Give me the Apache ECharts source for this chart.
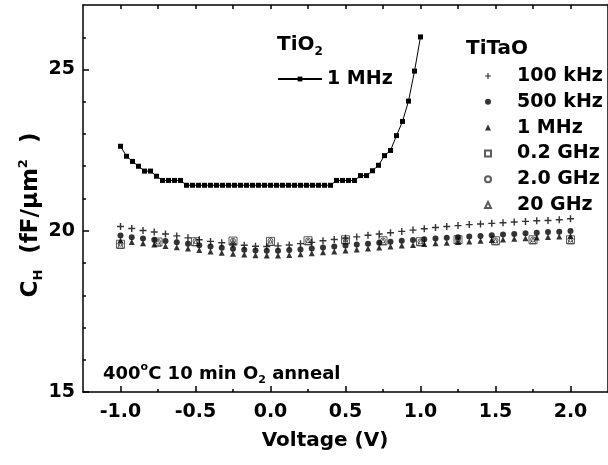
<!DOCTYPE html>
<html><head><meta charset="utf-8">
<script src="https://cdn.jsdelivr.net/npm/echarts@6/dist/echarts.min.js"></script>
<style>html,body{margin:0;padding:0;background:#fff}#c{width:608px;height:465px}</style>
</head><body><div id="c"></div>
<script>
// TiO2, 1 MHz
const tio2Voltage = [-1.00,-0.96,-0.92,-0.88,-0.84,-0.80,-0.76,-0.72,-0.68,-0.64,-0.60,-0.56,-0.52,-0.48,-0.44,-0.40,-0.36,-0.32,-0.28,-0.24,-0.20,-0.16,-0.12,-0.08,-0.04,0.00,0.04,0.08,0.12,0.16,0.20,0.24,0.28,0.32,0.36,0.40,0.44,0.48,0.52,0.56,0.60,0.64,0.68,0.72,0.76,0.80,0.84,0.88,0.92,0.96,1.00];
const tio2C = [22.62,22.31,22.15,22.00,21.85,21.85,21.69,21.56,21.56,21.56,21.56,21.41,21.41,21.41,21.41,21.41,21.41,21.41,21.41,21.41,21.41,21.41,21.41,21.41,21.41,21.41,21.41,21.41,21.41,21.41,21.41,21.41,21.41,21.41,21.41,21.41,21.56,21.56,21.56,21.56,21.71,21.71,21.86,22.03,22.33,22.49,22.95,23.39,24.02,24.95,26.01];

// TiTaO, low frequency
const titaoVoltage = [-1.000,-0.925,-0.850,-0.775,-0.700,-0.625,-0.550,-0.475,-0.400,-0.325,-0.250,-0.175,-0.100,-0.025,0.050,0.125,0.200,0.275,0.350,0.425,0.500,0.575,0.650,0.725,0.800,0.875,0.950,1.025,1.100,1.175,1.250,1.325,1.400,1.475,1.550,1.625,1.700,1.775,1.850,1.925,2.000];
const c100kHz = [20.13,20.07,20.01,19.96,19.90,19.84,19.78,19.72,19.67,19.63,19.59,19.55,19.52,19.51,19.53,19.56,19.60,19.64,19.69,19.73,19.77,19.81,19.86,19.90,19.94,19.98,20.02,20.06,20.10,20.13,20.16,20.19,20.21,20.23,20.25,20.27,20.29,20.31,20.32,20.34,20.37];
const c500kHz = [19.85,19.80,19.76,19.72,19.68,19.64,19.60,19.55,19.51,19.47,19.44,19.41,19.39,19.38,19.38,19.40,19.42,19.45,19.48,19.51,19.54,19.57,19.60,19.63,19.66,19.69,19.71,19.74,19.76,19.78,19.80,19.82,19.84,19.86,19.88,19.90,19.92,19.94,19.96,19.97,19.99];
const c1MHz = [19.70,19.65,19.61,19.57,19.53,19.49,19.45,19.40,19.36,19.32,19.29,19.26,19.24,19.23,19.23,19.25,19.27,19.30,19.33,19.36,19.39,19.42,19.45,19.48,19.51,19.54,19.56,19.59,19.61,19.63,19.65,19.67,19.69,19.71,19.73,19.75,19.77,19.79,19.81,19.82,19.84];

// TiTaO, RF
const rfVoltage = [-1.00,-0.75,-0.50,-0.25,0.00,0.25,0.50,0.75,1.00,1.25,1.50,1.75,2.00];
const c02GHz = [19.58,19.65,19.66,19.68,19.67,19.69,19.72,19.69,19.66,19.72,19.69,19.72,19.72];
const c20GHzA = [19.60,19.66,19.68,19.69,19.69,19.70,19.73,19.70,19.67,19.73,19.70,19.73,19.73];
const c20GHz = [19.55,19.62,19.63,19.65,19.64,19.66,19.69,19.66,19.63,19.69,19.66,19.69,19.69];

// Axis ticks
const xMajor = [-1.0,-0.5,0.0,0.5,1.0,1.5,2.0];
const xMinor = [-0.75,-0.25,0.25,0.75,1.25,1.75];
const xTop = [-1.0,-0.75,-0.5,-0.25,0.0,0.25,0.5,0.75,1.0,1.25,1.5,1.75,2.0];
const yMajor = [15,20,25];
const yMinor = [16,17,18,19,21,22,23,24,26];

const zip = (a,b)=>a.map((v,i)=>[v,b[i]]);
const FONT = 'DejaVu Sans, Verdana, sans-serif';
const plusPath = 'path://M4,0h2v4h4v2h-4v4h-2v-4h-4v-2h4z';
const ax = {color:'#000', width:1.5};
const txt = (size)=>({fontFamily:FONT, fontWeight:'bold', fontSize:size, fill:'#000', color:'#000'});

const chart = echarts.init(document.getElementById('c'), null, {renderer:'canvas'});
const baseX = {type:'value', min:-1.25, max:2.25, splitLine:{show:false}};
const baseY = {type:'value', min:15, max:27, splitLine:{show:false}};
chart.setOption({
  backgroundColor:'#fff',
  animation:false,
  grid:{left:83, top:5, width:527, height:387, containLabel:false},
  xAxis:[
    Object.assign({}, baseX, {position:'bottom',
      axisLine:{show:true, onZero:false, lineStyle:ax},
      axisTick:{show:true, inside:true, length:6, lineStyle:ax, customValues:xMajor},
      axisLabel:Object.assign({show:true, customValues:xMajor, formatter:v=>Number(v).toFixed(1), margin:11}, txt(19))}),
    Object.assign({}, baseX, {position:'bottom',
      axisLine:{show:false, onZero:false},
      axisTick:{show:true, inside:true, length:3, lineStyle:ax, customValues:xMinor},
      axisLabel:{show:false}}),
    Object.assign({}, baseX, {position:'top',
      axisLine:{show:true, onZero:false, lineStyle:ax},
      axisTick:{show:true, inside:true, length:4, lineStyle:ax, customValues:xTop},
      axisLabel:{show:false}})
  ],
  yAxis:[
    Object.assign({}, baseY, {position:'left',
      axisLine:{show:true, onZero:false, lineStyle:ax},
      axisTick:{show:true, inside:true, length:6, lineStyle:ax, customValues:yMajor},
      axisLabel:Object.assign({show:true, customValues:yMajor, margin:8}, txt(19))}),
    Object.assign({}, baseY, {position:'left',
      axisLine:{show:false, onZero:false},
      axisTick:{show:true, inside:true, length:3, lineStyle:ax, customValues:yMinor},
      axisLabel:{show:false}}),
    Object.assign({}, baseY, {position:'right',
      axisLine:{show:true, onZero:false, lineStyle:ax},
      axisTick:{show:false}, axisLabel:{show:false}})
  ],
  legend:[
    {left:272, top:63, itemWidth:44, itemHeight:6, itemGap:0, data:['TiO2 1 MHz'],
     formatter:n=>n.replace('TiO2 ',''), selectedMode:false,
     textStyle:Object.assign({lineHeight:22}, txt(19))},
    {left:479, top:60, orient:'vertical', itemWidth:6, itemHeight:6, itemGap:3.8, selectedMode:false,
     data:['100 kHz','500 kHz','1 MHz','0.2 GHz','2.0 GHz','20 GHz'],
     textStyle:Object.assign({lineHeight:22, padding:[0,0,0,21]}, txt(19))}
  ],
  graphic:[
    {type:'text', left:277, top:35, style:{text:'{a|TiO}{s|2}',
      rich:{a:Object.assign({lineHeight:26, verticalAlign:'middle'}, txt(20)),
            s:Object.assign({lineHeight:26, verticalAlign:'bottom'}, txt(12))}}},
    {type:'text', left:466, top:37, style:Object.assign({text:'TiTaO', lineHeight:24}, txt(20))},
    {type:'text', left:103, top:362, style:{text:'{a|400}{p|o}{a|C 10 min O}{s|2}{a| anneal}',
      rich:{a:Object.assign({lineHeight:24, verticalAlign:'middle'}, txt(18)),
            s:Object.assign({lineHeight:24, verticalAlign:'bottom'}, txt(11)),
            p:Object.assign({lineHeight:24, verticalAlign:'top'}, txt(11))}}},
    {type:'text', x:325, y:441, style:Object.assign({text:'Voltage (V)', align:'center', verticalAlign:'middle'}, txt(20))},
    {type:'text', x:31, y:215, rotation:Math.PI/2,
     style:{text:'{a|C}{s|H}{a|  (fF/μm}{p|2}{a|  )}', align:'center', verticalAlign:'middle',
      rich:{a:Object.assign({lineHeight:28, verticalAlign:'middle'}, txt(23)),
            s:Object.assign({lineHeight:28, verticalAlign:'bottom'}, txt(13)),
            p:Object.assign({lineHeight:28, verticalAlign:'top'}, txt(13))}}}
  ],
  series:[
    {name:'0.2 GHz', type:'scatter', symbol:'rect', symbolSize:8, data:zip(rfVoltage,c02GHz),
     itemStyle:{color:'#fff', borderColor:'#333', borderWidth:1}, z:3},
    {name:'2.0 GHz', type:'scatter', symbol:'circle', symbolSize:5, data:zip(rfVoltage,c20GHzA),
     itemStyle:{color:'rgba(255,255,255,0)', borderColor:'#333', borderWidth:1}, z:4},
    {name:'20 GHz', type:'scatter', symbol:'triangle', symbolSize:6, data:zip(rfVoltage,c20GHz),
     itemStyle:{color:'rgba(255,255,255,0)', borderColor:'#333', borderWidth:1}, z:4},
    {name:'100 kHz', type:'scatter', symbol:plusPath, symbolSize:7, data:zip(titaoVoltage,c100kHz),
     itemStyle:{color:'#000'}, z:5},
    {name:'500 kHz', type:'scatter', symbol:'circle', symbolSize:6, data:zip(titaoVoltage,c500kHz),
     itemStyle:{color:'#000'}, z:5},
    {name:'1 MHz', type:'scatter', symbol:'triangle', symbolSize:6, data:zip(titaoVoltage,c1MHz),
     itemStyle:{color:'#000'}, z:5},
    {name:'TiO2 1 MHz', type:'line', symbol:'rect', symbolSize:5, showSymbol:true, data:zip(tio2Voltage,tio2C),
     lineStyle:{color:'#000', width:1}, itemStyle:{color:'#000'}, z:6}
  ]
});
</script></body></html>
